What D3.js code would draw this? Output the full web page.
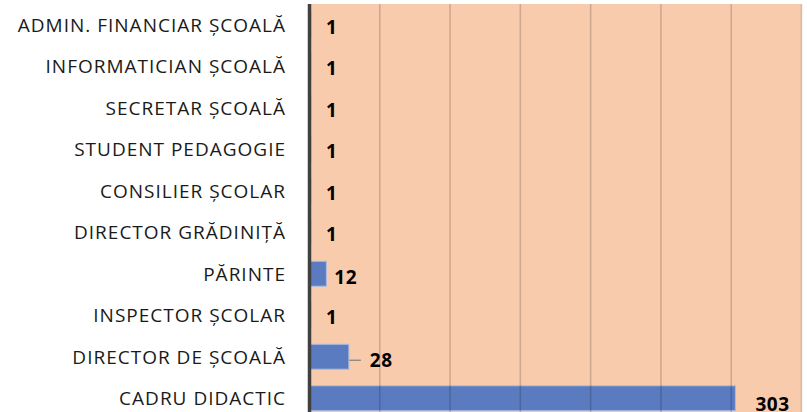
<!DOCTYPE html>
<html>
<head>
<meta charset="utf-8">
<script src="https://cdn.jsdelivr.net/npm/d3@7"></script>
<style>
  html, body { margin: 0; padding: 0; background: #ffffff; }
  svg { display: block; }
</style>
</head>
<body>
<svg id="chart" width="807" height="412"></svg>
<script>
// ---- data ----
const categories = [
  "ADMIN. FINANCIAR ȘCOALĂ",
  "INFORMATICIAN ȘCOALĂ",
  "SECRETAR ȘCOALĂ",
  "STUDENT PEDAGOGIE",
  "CONSILIER ȘCOLAR",
  "DIRECTOR GRĂDINIȚĂ",
  "PĂRINTE",
  "INSPECTOR ȘCOLAR",
  "DIRECTOR DE ȘCOALĂ",
  "CADRU DIDACTIC"
];
const values = [1, 1, 1, 1, 1, 1, 12, 1, 28, 303];
const xTicks = [0, 50, 100, 150, 200, 250, 300, 350];

// ---- layout (label nudges as placed in the original) ----
const labelShift = [
  [15, 2], [15, 2], [15, 2], [15, 2], [15, 2], [15, 2],
  [8, 3], [15, 2], [21, 3.5], [20, 5.5]
];

(function () {
const svg = d3.select("#chart");
const pLeft = 309.5, pRight = 801.5, pTop = 4, pBottom = 419;

const x = d3.scaleLinear().domain([0, 350]).range([pLeft, pRight]);
const y = d3.scaleBand().domain(categories).range([pTop, pBottom])
  .paddingInner(0.4).paddingOuter(0.2);

// plot background
svg.append("rect")
  .attr("x", pLeft).attr("y", pTop)
  .attr("width", pRight - pLeft).attr("height", pBottom - pTop)
  .attr("fill", "#F8CBAD");

// bars
svg.append("g").selectAll("rect")
  .data(values)
  .join("rect")
  .attr("x", x(0))
  .attr("y", (d, i) => y(categories[i]))
  .attr("width", d => x(d) - x(0))
  .attr("height", y.bandwidth())
  .attr("fill", "#5B7BC1")
  .attr("stroke", "#A9BCE3")
  .attr("stroke-width", 1);

// gridlines (drawn over, semi-transparent)
svg.append("g").selectAll("line")
  .data(xTicks.filter(t => t > 0))
  .join("line")
  .attr("x1", d => x(d)).attr("x2", d => x(d))
  .attr("y1", pTop).attr("y2", pBottom)
  .attr("stroke", "#000")
  .attr("stroke-opacity", 0.17)
  .attr("stroke-width", 1.6);

// vertical category axis line
svg.append("line")
  .attr("x1", pLeft).attr("x2", pLeft)
  .attr("y1", pTop).attr("y2", pBottom)
  .attr("stroke", "#404040")
  .attr("stroke-width", 3.5);

// category labels
svg.append("g").selectAll("text")
  .data(categories)
  .join("text")
  .attr("x", 286)
  .attr("y", d => y(d) + y.bandwidth() / 2)
  .attr("text-anchor", "end")
  .attr("dominant-baseline", "central")
  .attr("font-family", "'Open Sans', sans-serif")
  .attr("font-size", 19)
  .attr("letter-spacing", "1px")
  .attr("fill", "#1a1a1a")
  .text(d => d);

// leader line for 28
const iLead = 8;
svg.append("line")
  .attr("x1", x(values[iLead]) + 0.5)
  .attr("x2", x(values[iLead]) + 12)
  .attr("y1", y(categories[iLead]) + y.bandwidth() / 2 + labelShift[iLead][1])
  .attr("y2", y(categories[iLead]) + y.bandwidth() / 2 + labelShift[iLead][1])
  .attr("stroke", "#7f7f7f")
  .attr("stroke-width", 1.2);

// value labels
svg.append("g").selectAll("text")
  .data(values)
  .join("text")
  .attr("x", (d, i) => x(d) + labelShift[i][0])
  .attr("y", (d, i) => y(categories[i]) + y.bandwidth() / 2 + labelShift[i][1])
  .attr("text-anchor", "start")
  .attr("dominant-baseline", "central")
  .attr("font-family", "'Open Sans', sans-serif")
  .attr("font-weight", "bold")
  .attr("font-size", 19)
  .attr("letter-spacing", "0.5px")
  .attr("fill", "#000")
  .text(d => d);
})();
</script>
</body>
</html>
